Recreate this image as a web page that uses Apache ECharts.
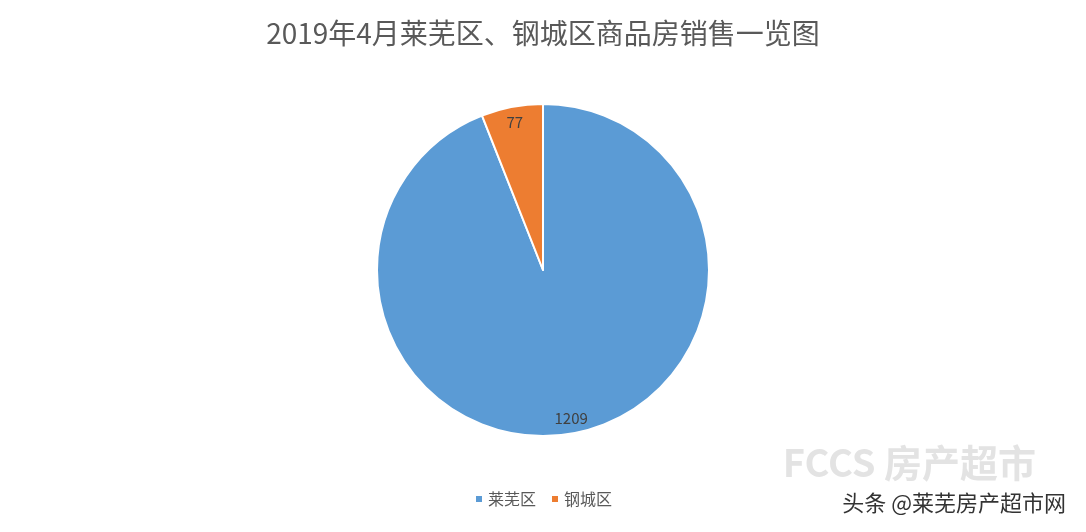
<!DOCTYPE html>
<html lang="zh">
  <head>
    <meta charset="UTF-8" />
    <title>ECharts</title>
    <script src="https://cdn.jsdelivr.net/npm/echarts@6/dist/echarts.min.js"></script>
    <style>
      html, body { margin: 0; padding: 0; background: #fff; }
      #main { width: 1086px; height: 532px; }
    </style>
  </head>
  <body>
    <div id="main"></div>
    <script type="text/javascript">
      var districts = ["莱芜区", "钢城区"];
      var sales = [1209, 77];
      var colors = ["#5b9bd5", "#ed7d31"];

      var myChart = echarts.init(document.getElementById("main"));
      var cx = 543, cy = 270;

      var option = {
        backgroundColor: "#fff",
        textStyle: { fontFamily: "Noto Sans CJK SC" },
        title: {
          text: "2019年4月莱芜区、钢城区商品房销售一览图",
          left: "center",
          top: 14,
          textStyle: { color: "#595959", fontSize: 28, fontWeight: "normal" },
        },
        legend: {
          bottom: 20,
          left: "center",
          icon: "rect",
          itemWidth: 8,
          itemHeight: 8,
          itemGap: 14,
          textStyle: { color: "#595959", fontSize: 16 },
          data: districts,
        },
        color: colors,
        series: [
          {
            type: "pie",
            center: [cx, cy],
            radius: 166,
            startAngle: 90,
            clockwise: true,
            animation: false,
            itemStyle: { borderColor: "#fff", borderWidth: 2 },
            label: {
              show: true,
              position: "inside",
              color: "#404040",
              fontSize: 15,
              formatter: "{c}",
            },
            labelLayout: function (p) {
              var r = p.labelRect;
              var lx = r.x + r.width / 2 - cx;
              var ly = r.y + r.height / 2 - cy;
              return { x: cx + lx * 1.75, y: cy + ly * 1.75, align: "center", verticalAlign: "middle" };
            },
            data: districts.map(function (n, i) {
              return { name: n, value: sales[i] };
            }),
          },
        ],
        graphic: [
          {
            type: "text",
            right: 20,
            bottom: 18,
            style: {
              text: "头条 @莱芜房产超市网",
              fill: "#333",
              font: "22px 'Noto Sans CJK SC'",
            },
          },
          {
            type: "text",
            right: 50,
            bottom: 50,
            style: {
              text: "FCCS 房产超市",
              fill: "rgba(220,220,220,0.8)",
              font: "bold 38px 'Noto Sans CJK SC'",
            },
          },
        ],
      };
      myChart.setOption(option);
    </script>
  </body>
</html>
